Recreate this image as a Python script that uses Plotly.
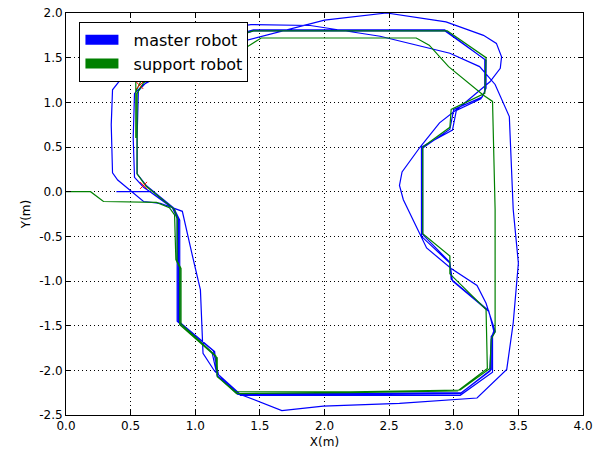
import plotly.graph_objects as go

# master robot trajectory (m)
master_x = [0.39, 0.65, 0.84, 0.88, 0.88, 1.15, 1.17, 1.33, 2.20, 3.05, 3.28, 3.29, 3.32, 3.27,
            2.99, 2.97, 2.75, 2.75, 2.99, 3.02, 3.21, 3.24, 3.24, 2.93, 2.20, 1.45, 1.30, 0.62,
            0.56, 0.55, 0.55, 0.62, 0.83, 0.87, 0.87, 1.14, 1.18, 1.35, 2.20, 3.05, 3.30, 3.30,
            3.31, 3.27, 2.98, 2.97, 2.76, 2.76, 2.97, 3.00, 3.22, 3.25, 3.25, 2.93, 2.20, 1.45,
            1.30, 0.60, 0.53, 0.52, 0.53, 0.60, 0.82, 0.86, 0.86, 1.13, 1.17, 1.34, 2.20, 3.06,
            3.29, 3.29, 3.32, 3.25, 3.18, 2.98, 2.79, 2.69, 2.61, 2.58, 2.60, 2.74, 2.89, 3.05,
            3.28, 3.36, 3.37, 3.33, 3.23, 2.94, 2.48, 2.00, 1.41, 1.00, 0.50, 0.42, 0.36, 0.35,
            0.36, 0.40, 0.60, 0.73, 0.90, 0.98, 1.04, 1.06, 1.15, 1.35, 1.67, 1.99, 2.58, 3.18,
            3.41, 3.46, 3.50, 3.46, 3.43, 3.32, 3.20, 2.97, 2.43, 1.89, 1.43, 1.10]
master_y = [0.00, 0.00, -0.20, -0.32, -1.46, -1.79, -2.06, -2.27, -2.27, -2.26, -2.01, -1.62, -1.56, -1.34,
            -1.00, -0.80, -0.50, 0.50, 0.69, 0.91, 1.04, 1.12, 1.48, 1.81, 1.81, 1.81, 1.75, 1.22,
            1.13, 0.60, 0.20, 0.07, -0.18, -0.30, -1.46, -1.78, -2.05, -2.28, -2.28, -2.28, -2.02, -1.60,
            -1.56, -1.33, -0.98, -0.79, -0.48, 0.49, 0.70, 0.92, 1.06, 1.16, 1.47, 1.80, 1.80, 1.80,
            1.73, 1.20, 1.10, 0.60, 0.16, 0.05, -0.17, -0.30, -1.45, -1.80, -2.06, -2.26, -2.26, -2.25,
            -1.99, -1.63, -1.57, -1.25, -1.05, -0.86, -0.63, -0.32, -0.09, 0.07, 0.22, 0.50, 0.77, 0.95,
            1.23, 1.38, 1.51, 1.66, 1.75, 1.90, 2.00, 1.92, 1.70, 1.55, 1.36, 1.25, 1.14, 0.75,
            0.21, 0.13, -0.11, -0.13, -0.22, -0.73, -1.10, -1.81, -2.01, -2.27, -2.45, -2.40, -2.37, -2.31,
            -1.99, -1.47, -0.80, -0.20, 0.84, 1.20, 1.40, 1.55, 1.74, 1.86, 1.87, 1.80]

# support robot trajectory (m)
support_x = [0.00, 0.19, 0.29, 0.70, 0.80, 0.84, 0.85, 0.88, 0.88, 1.17, 1.17, 1.32, 2.20, 3.03,
             3.26, 3.25, 2.97, 2.97, 2.76, 2.76, 2.97, 2.98, 3.24, 3.25, 2.95, 2.20, 1.45, 1.30,
             0.60, 0.55, 0.55, 0.62, 0.84, 0.86, 0.86, 0.89, 0.89, 1.16, 1.17, 1.31, 2.20, 3.05,
             3.28, 3.29, 3.32, 3.32, 3.30, 3.23, 2.96, 2.81, 2.71, 2.10, 1.51, 1.40, 0.90, 0.58,
             0.54, 0.54, 0.54]
support_y = [0.00, 0.00, -0.11, -0.12, -0.18, -0.26, -0.76, -0.85, -1.49, -1.86, -2.07, -2.26, -2.25, -2.23,
             -1.98, -1.32, -0.92, -0.72, -0.47, 0.50, 0.72, 0.92, 1.10, 1.50, 1.80, 1.80, 1.80, 1.74,
             1.22, 1.10, 0.20, 0.06, -0.20, -0.30, -0.78, -0.86, -1.48, -1.84, -2.07, -2.24, -2.24, -2.22,
             -1.98, -1.65, -1.57, -0.20, 1.01, 1.08, 1.40, 1.64, 1.72, 1.72, 1.72, 1.62, 1.40, 1.24,
             1.12, 0.60, 1.60]

# marker points (m)
mark_x = [0.57, 0.60]
mark_y = [1.19, 0.07]

series_names = ["master robot", "support robot"]
x_ticks = [0.0, 0.5, 1.0, 1.5, 2.0, 2.5, 3.0, 3.5, 4.0]
y_ticks = [-2.5, -2.0, -1.5, -1.0, -0.5, 0.0, 0.5, 1.0, 1.5, 2.0]

BLUE = "#0000ff"
GREEN = "#008000"

fig = go.Figure()
fig.add_trace(go.Scatter(x=master_x, y=master_y, mode="lines",
                         line=dict(color=BLUE, width=1.2), showlegend=False, hoverinfo="skip"))
fig.add_trace(go.Scatter(x=support_x, y=support_y, mode="lines",
                         line=dict(color=GREEN, width=1.2), showlegend=False, hoverinfo="skip"))
fig.add_trace(go.Scatter(x=mark_x, y=mark_y, mode="markers",
                         marker=dict(symbol="x-thin", size=7, line=dict(color="red", width=1)),
                         showlegend=False, hoverinfo="skip"))
# legend entries (thick patches)
NB = "\u00a0\u00a0"
fig.add_trace(go.Scatter(x=[None], y=[None], mode="lines", name=NB + series_names[0],
                         line=dict(color=BLUE, width=13)))
fig.add_trace(go.Scatter(x=[None], y=[None], mode="lines", name=NB + series_names[1],
                         line=dict(color=GREEN, width=13)))

axis_common = dict(
    showline=True, linecolor="black", linewidth=1, mirror="ticks",
    ticks="inside", ticklen=5, tickwidth=1, tickcolor="black",
    showgrid=True, gridcolor="black", gridwidth=1, griddash="1px,3px",
    zeroline=False, automargin=False,
    tickfont=dict(family="DejaVu Sans", size=12, color="black"),
)

fig.update_xaxes(range=[0, 4], tickvals=x_ticks, ticktext=[f"{v:.1f}" for v in x_ticks],
                 title=dict(text="X(m)", font=dict(family="DejaVu Sans", size=12, color="black"), standoff=5),
                 **axis_common)
fig.update_yaxes(range=[-2.5, 2.0], tickvals=y_ticks, ticktext=[f"{v:.1f}" for v in y_ticks],
                 title=dict(text="Y(m)", font=dict(family="DejaVu Sans", size=12, color="black"), standoff=5),
                 **axis_common)

fig.update_layout(
    width=596, height=455,
    margin=dict(l=66, r=13, t=13, b=40),
    paper_bgcolor="white", plot_bgcolor="white",
    font=dict(family="DejaVu Sans", color="black"),
    legend=dict(x=0.026, y=0.978, xanchor="left", yanchor="top",
                bgcolor="white", bordercolor="black", borderwidth=1,
                font=dict(family="DejaVu Sans", size=16, color="black"),
                itemwidth=33, tracegroupgap=0),
    showlegend=True,
)

fig.write_html("out.html", config={"displayModeBar": False},
               post_script="document.body.style.margin='0';document.body.style.overflow='hidden';")
